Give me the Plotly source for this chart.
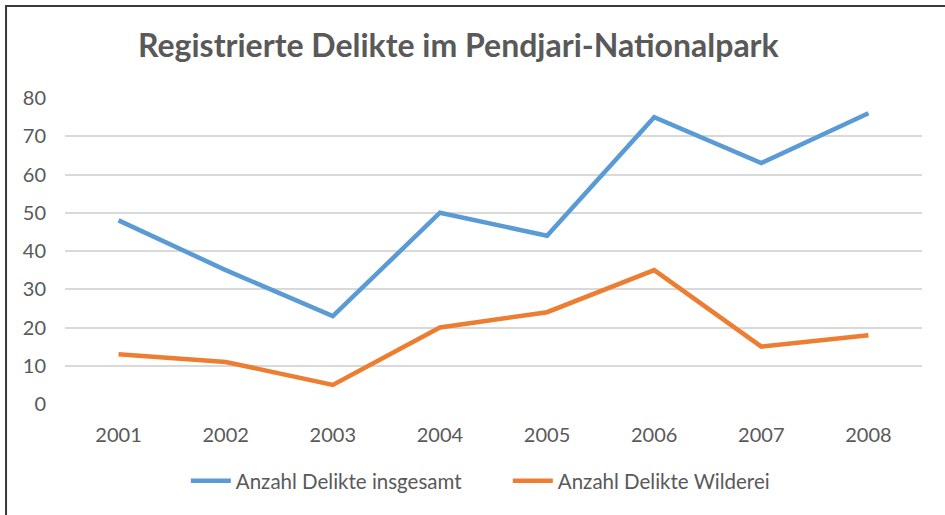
import plotly.graph_objects as go

years = ["2001", "2002", "2003", "2004", "2005", "2006", "2007", "2008"]
delikte_gesamt = [48, 35, 23, 50, 44, 75, 63, 76]
delikte_wilderei = [13, 11, 5, 20, 24, 35, 15, 18]
y_ticks = [0, 10, 20, 30, 40, 50, 60, 70, 80]

text_color = "#595959"
font_family = "Lato, 'Open Sans', sans-serif"

fig = go.Figure()

fig.add_trace(go.Scatter(
    x=years,
    y=delikte_gesamt,
    mode="lines",
    name="Anzahl Delikte insgesamt",
    line=dict(color="#5B9BD5", width=4.5),
))

fig.add_trace(go.Scatter(
    x=years,
    y=delikte_wilderei,
    mode="lines",
    name="Anzahl Delikte Wilderei",
    line=dict(color="#ED7D31", width=4.5),
))

# chart frame (top and left edge visible in the reference)
fig.add_shape(
    type="rect", xref="paper", yref="paper",
    x0=-0.0688, x1=1.3, y0=-1.0, y1=1.3007,
    line=dict(color="#3a3a3a", width=2),
    fillcolor="rgba(0,0,0,0)",
    layer="below",
)

fig.update_layout(
    width=945,
    height=515,
    margin=dict(l=65, r=23, t=98, b=111, autoexpand=False),
    paper_bgcolor="white",
    plot_bgcolor="white",
    font=dict(family=font_family, color=text_color, size=20),
    title=dict(
        text="<b>Registrierte Delikte im Pendjari-Nationalpark</b>",
        x=0.485,
        xanchor="center",
        y=0.912,
        yanchor="middle",
        font=dict(size=32, color=text_color, family=font_family),
    ),
    showlegend=True,
    legend=dict(
        orientation="h",
        x=0.141,
        xanchor="left",
        y=-0.2516,
        yanchor="middle",
        font=dict(size=20.5, color=text_color),
        itemwidth=40,
        entrywidth=267,
        entrywidthmode="pixels",
    ),
    xaxis=dict(
        type="category",
        range=[-0.5, 7.5],
        showgrid=False,
        showline=False,
        zeroline=False,
        ticks="",
        automargin=False,
        ticklabelstandoff=17,
        tickfont=dict(size=20, color=text_color),
    ),
    yaxis=dict(
        range=[0, 80],
        tickvals=y_ticks,
        showgrid=True,
        gridcolor="#D9D9D9",
        gridwidth=1.5,
        zeroline=False,
        showline=False,
        ticks="",
        automargin=False,
        ticklabelstandoff=18,
        tickfont=dict(size=20, color=text_color),
    ),
)

fig.write_html(
    "out.html",
    config={"displayModeBar": False},
    post_script="document.body.style.margin='0';",
)
